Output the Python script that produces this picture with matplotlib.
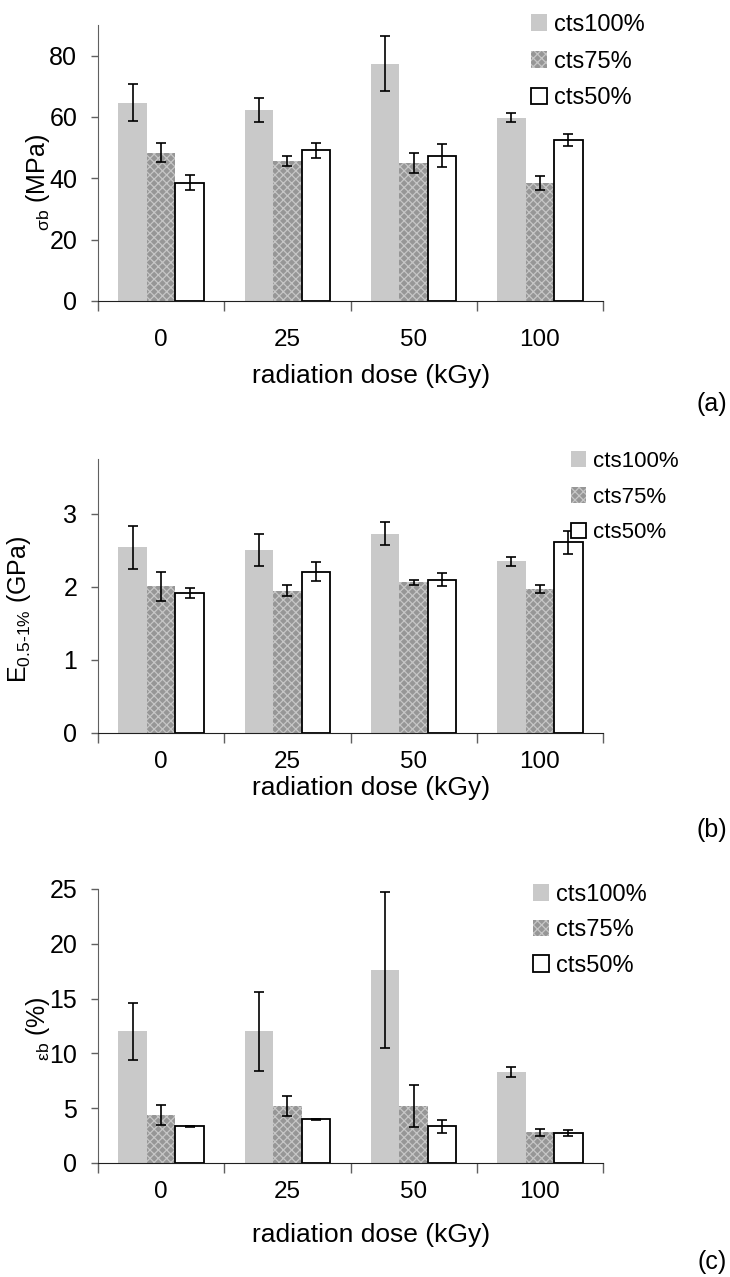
import numpy as np
import matplotlib
matplotlib.use("Agg")
import matplotlib.pyplot as plt

plt.rcParams["font.family"] = ["Liberation Sans", "DejaVu Sans"]
plt.rcParams["mathtext.fontset"] = "custom"
plt.rcParams["mathtext.rm"] = "Liberation Sans"
plt.rcParams["mathtext.it"] = "Liberation Sans"
plt.rcParams["hatch.linewidth"] = 0.9

doses = ["0", "25", "50", "100"]
series = ["cts100%", "cts75%", "cts50%"]

# (a) stress at break, MPa
sigma_100 = [64.7, 62.4, 77.4, 59.8]
sigma_100_err = [6.1, 3.9, 9.0, 1.5]
sigma_75 = [48.3, 45.7, 44.9, 38.4]
sigma_75_err = [3.1, 1.6, 3.2, 2.2]
sigma_50 = [38.6, 49.1, 47.4, 52.5]
sigma_50_err = [2.4, 2.5, 3.7, 2.1]

# (b) modulus, GPa
mod_100 = [2.54, 2.51, 2.73, 2.35]
mod_100_err = [0.29, 0.22, 0.16, 0.06]
mod_75 = [2.01, 1.95, 2.06, 1.97]
mod_75_err = [0.20, 0.07, 0.04, 0.06]
mod_50 = [1.92, 2.21, 2.10, 2.61]
mod_50_err = [0.07, 0.13, 0.09, 0.16]

# (c) strain at break, %
eps_100 = [12.0, 12.0, 17.6, 8.3]
eps_100_err = [2.6, 3.6, 7.15, 0.48]
eps_75 = [4.4, 5.2, 5.2, 2.8]
eps_75_err = [0.93, 0.9, 1.9, 0.3]
eps_50 = [3.34, 3.98, 3.34, 2.74]
eps_50_err = [0.08, 0.08, 0.6, 0.3]

W, H = 730, 1277
fig = plt.figure(figsize=(W / 100, H / 100), dpi=100)

styles = [
    dict(color="#c9c9c9", linewidth=0),
    dict(facecolor="#969696", edgecolor="#c6c6c6", hatch="xxxx", linewidth=0),
    dict(facecolor="white", edgecolor="black", linewidth=1.3),
]

panels = [
    dict(top=25, bottom=301, ylim=90, yticks=[0, 20, 40, 60, 80],
         data=[(sigma_100, sigma_100_err), (sigma_75, sigma_75_err), (sigma_50, sigma_50_err)],
         ylabel=r"$_{\mathregular{\sigma b}}$ (MPa)", ylab=(-0.092, 0.43),
         xlab_y=-0.227, tickpad=20, leg=(531, 14), legfs=17, lsp=0.62, tag="(a)", tag_y=404),
    dict(top=459, bottom=733, ylim=3.75, yticks=[0, 1, 2, 3],
         data=[(mod_100, mod_100_err), (mod_75, mod_75_err), (mod_50, mod_50_err)],
         ylabel=r"E$\mathregular{_{0.5\text{-}1\%}}$ (GPa)", ylab=(-0.128, 0.45),
         xlab_y=-0.157, tickpad=13, leg=(571, 451), legfs=16, lsp=0.66, tag="(b)", tag_y=830),
    dict(top=889, bottom=1163, ylim=25, yticks=[0, 5, 10, 15, 20, 25],
         data=[(eps_100, eps_100_err), (eps_75, eps_75_err), (eps_50, eps_50_err)],
         ylabel=r"$_{\mathregular{\varepsilon b}}$ (%)", ylab=(-0.092, 0.49),
         xlab_y=-0.219, tickpad=13, leg=(533, 884), legfs=17, lsp=0.57, tag="(c)", tag_y=1262),
]

x = np.arange(len(doses))
bw = 0.226
axis_col = "#606060"

for p in panels:
    left, right = 98, 603
    ax = fig.add_axes([left / W, 1 - p["bottom"] / H, (right - left) / W,
                       (p["bottom"] - p["top"]) / H])
    handles = []
    for i, ((vals, errs), st) in enumerate(zip(p["data"], styles)):
        b = ax.bar(x + (i - 1) * bw, vals, bw, label=series[i], zorder=2, **st)
        ax.errorbar(x + (i - 1) * bw, vals, yerr=errs, fmt="none", ecolor="black",
                    elinewidth=1.2, capsize=3.5, capthick=1.2, zorder=3)
        handles.append(b)
    ax.set_xlim(-0.5, 3.5)
    ax.set_ylim(0, p["ylim"])
    ax.set_yticks(p["yticks"])
    ax.set_xticks(x)
    ax.set_xticklabels(doses)
    ax.set_xticks(np.arange(-0.5, 4, 1), minor=True)
    ax.tick_params(axis="x", which="major", length=0, pad=p["tickpad"], labelsize=17.5)
    ax.tick_params(axis="x", which="minor", length=7, color=axis_col, width=1)
    ax.tick_params(axis="y", length=5, color=axis_col, width=1, pad=10, labelsize=18)
    for s in ["top", "right"]:
        ax.spines[s].set_visible(False)
    ax.spines["left"].set_color(axis_col)
    ax.spines["bottom"].set_color("#202020")
    ax.set_ylabel(p["ylabel"], fontsize=18)
    ax.yaxis.set_label_coords(*p["ylab"])
    ax.set_xlabel("radiation dose (kGy)", fontsize=19)
    ax.xaxis.set_label_coords(0.54, p["xlab_y"])
    lx, ly = p["leg"]
    ax.legend(handles=handles, loc="upper left", bbox_to_anchor=(lx / W, 1 - ly / H),
              bbox_transform=fig.transFigure, frameon=False, fontsize=p["legfs"],
              handlelength=0.68, handleheight=0.7, handletextpad=0.3,
              labelspacing=p["lsp"], borderpad=0, borderaxespad=0)
    fig.text(712 / W, 1 - p["tag_y"] / H, p["tag"], fontsize=18, ha="center", va="center")

fig.savefig("out.png", dpi=100)
